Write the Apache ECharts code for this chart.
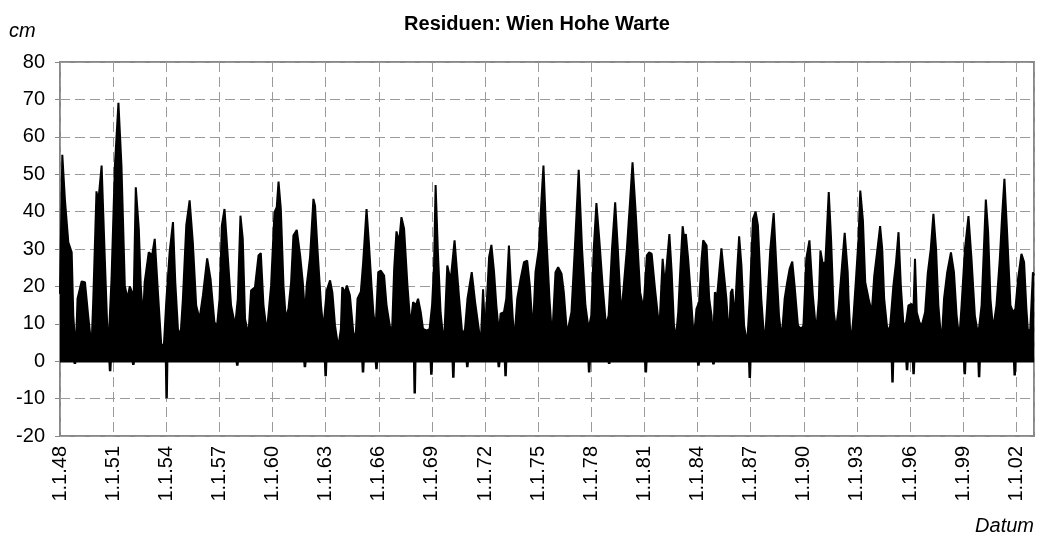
<!DOCTYPE html>
<html>
<head>
<meta charset="utf-8">
<script src="https://cdn.jsdelivr.net/npm/echarts@6/dist/echarts.min.js"></script>
<style>
  html, body { margin: 0; padding: 0; background: #fff; }
  #myChart { width: 1045px; height: 537px; }
</style>
</head>
<body>
<div id="myChart"></div>
<script>
// obere Huelle der Residuen (Jahr, cm)
var upperYears = [
  1948.00, 1948.13, 1948.28, 1948.47, 1948.66, 1948.75, 1948.84, 1948.90, 1948.99, 1949.22,
  1949.41, 1949.59, 1949.78, 1949.88, 1950.06, 1950.16, 1950.35, 1950.53, 1950.72, 1950.91,
  1951.10, 1951.30, 1951.47, 1951.66, 1951.81, 1951.94, 1952.07, 1952.15, 1952.28, 1952.45,
  1952.56, 1952.69, 1952.78, 1953.01, 1953.20, 1953.35, 1953.53, 1953.72, 1953.87, 1954.00,
  1954.19, 1954.38, 1954.51, 1954.66, 1954.81, 1954.94, 1955.13, 1955.32, 1955.50, 1955.69,
  1955.88, 1956.07, 1956.31, 1956.50, 1956.72, 1956.87, 1957.01, 1957.14, 1957.29, 1957.47,
  1957.66, 1957.89, 1958.04, 1958.19, 1958.32, 1958.45, 1958.64, 1958.79, 1959.01, 1959.21,
  1959.34, 1959.49, 1959.68, 1959.77, 1959.92, 1960.11, 1960.24, 1960.34, 1960.47, 1960.62,
  1960.75, 1960.90, 1961.05, 1961.18, 1961.37, 1961.56, 1961.71, 1961.84, 1961.93, 1962.12,
  1962.31, 1962.40, 1962.55, 1962.74, 1962.87, 1963.06, 1963.25, 1963.38, 1963.53, 1963.71,
  1963.86, 1963.94, 1964.09, 1964.20, 1964.37, 1964.56, 1964.69, 1964.80, 1964.99, 1965.12,
  1965.31, 1965.44, 1965.59, 1965.70, 1965.82, 1965.97, 1966.12, 1966.30, 1966.44, 1966.62,
  1966.75, 1966.87, 1967.00, 1967.15, 1967.28, 1967.43, 1967.62, 1967.79, 1967.94, 1968.09,
  1968.22, 1968.37, 1968.50, 1968.69, 1968.87, 1969.01, 1969.12, 1969.21, 1969.34, 1969.49,
  1969.68, 1969.87, 1970.06, 1970.28, 1970.54, 1970.72, 1970.87, 1971.01, 1971.25, 1971.44,
  1971.62, 1971.76, 1971.89, 1972.00, 1972.09, 1972.23, 1972.36, 1972.51, 1972.64, 1972.79,
  1972.88, 1973.07, 1973.20, 1973.35, 1973.50, 1973.65, 1973.82, 1974.01, 1974.20, 1974.38,
  1974.53, 1974.70, 1974.85, 1975.04, 1975.19, 1975.30, 1975.45, 1975.64, 1975.79, 1975.98,
  1976.13, 1976.32, 1976.45, 1976.63, 1976.88, 1977.07, 1977.29, 1977.48, 1977.67, 1977.85,
  1978.00, 1978.14, 1978.29, 1978.45, 1978.64, 1978.83, 1978.98, 1979.17, 1979.35, 1979.50,
  1979.69, 1979.82, 1980.01, 1980.20, 1980.33, 1980.52, 1980.76, 1980.95, 1981.14, 1981.27,
  1981.41, 1981.60, 1981.79, 1981.88, 1982.03, 1982.16, 1982.29, 1982.41, 1982.54, 1982.67,
  1982.78, 1982.91, 1983.04, 1983.16, 1983.25, 1983.34, 1983.47, 1983.66, 1983.79, 1983.94,
  1984.09, 1984.23, 1984.32, 1984.51, 1984.66, 1984.79, 1984.88, 1984.98, 1985.11, 1985.26,
  1985.35, 1985.48, 1985.63, 1985.78, 1985.88, 1985.97, 1986.10, 1986.23, 1986.35, 1986.48,
  1986.63, 1986.80, 1986.95, 1987.13, 1987.28, 1987.41, 1987.60, 1987.79, 1987.92, 1988.11,
  1988.30, 1988.45, 1988.60, 1988.75, 1988.92, 1989.05, 1989.20, 1989.35, 1989.48, 1989.67,
  1989.85, 1989.98, 1990.14, 1990.32, 1990.51, 1990.70, 1990.85, 1990.94, 1991.07, 1991.22,
  1991.41, 1991.54, 1991.69, 1991.82, 1991.97, 1992.16, 1992.31, 1992.48, 1992.53, 1992.66,
  1992.81, 1992.96, 1993.09, 1993.19, 1993.34, 1993.47, 1993.66, 1993.84, 1993.98, 1994.16,
  1994.31, 1994.43, 1994.54, 1994.73, 1994.88, 1995.06, 1995.21, 1995.35, 1995.48, 1995.63,
  1995.78, 1995.91, 1996.10, 1996.19, 1996.28, 1996.38, 1996.53, 1996.66, 1996.85, 1997.00,
  1997.17, 1997.32, 1997.47, 1997.60, 1997.78, 1997.92, 1998.10, 1998.31, 1998.48, 1998.63,
  1998.78, 1998.91, 1999.10, 1999.30, 1999.47, 1999.66, 1999.85, 2000.04, 2000.17, 2000.28,
  2000.41, 2000.54, 2000.69, 2000.88, 2001.07, 2001.20, 2001.33, 2001.48, 2001.67, 2001.82,
  2001.95, 2002.10, 2002.29, 2002.44, 2002.57, 2002.66, 2002.79, 2002.94, 2003.00
];
var upperCm = [
  18, 55.2, 43, 31.8, 29.1, 12.2, 6, 4.2, 16.7, 21.3,
  21.1, 12.2, 3.7, 16.7, 45.4, 42.5, 52.3, 27.4, 2.4, 22,
  52.3, 69.1, 52.3, 20.2, 16.7, 20, 18.4, 14, 46.5, 35.4,
  20.2, 11.3, 21.1, 29.1, 28.3, 32.7, 18.4, 4.2, 4.6, 15.8,
  29.1, 37.2, 21.1, 8.6, 6.9, 16.7, 36.3, 43, 31.8, 14.9,
  11.3, 17.6, 27.5, 22, 10.4, 9.5, 16.7, 36.3, 40.7, 28.3,
  14.9, 9.5, 16.7, 38.9, 32.7, 11.3, 6.9, 18.9, 19.8, 28.3,
  28.9, 14.9, 7.8, 7.4, 20.2, 39.8, 41.2, 48, 40.7, 20.2,
  11.3, 14, 21.1, 33.6, 35.1, 28.3, 21.1, 12.2, 20.2, 27.8,
  43.4, 41.6, 29.1, 14.9, 8.6, 18.9, 21.6, 18.4, 9.5, 3.7,
  8.6, 19.8, 18.4, 20.2, 17.6, 7.8, 6, 16.7, 18.6, 26.5,
  40.7, 31.8, 20.2, 12.7, 8.6, 23.8, 24.2, 22.9, 14.9, 9.5,
  7.8, 24.7, 34.7, 31.8, 38.5, 35.4, 20.2, 9.5, 15.8, 14.9,
  16.7, 13.1, 8.6, 8.2, 8.6, 14.9, 25.6, 47.1, 29.1, 13.1,
  4.2, 25.6, 21.6, 32.3, 16.7, 6.9, 8.6, 16.7, 23.8, 15.8,
  9.5, 4.6, 19.2, 7.8, 14.9, 27.8, 31.1, 23.8, 14.9, 7.3,
  12.7, 13.1, 16.7, 30.9, 16.7, 5.1, 16.7, 22, 26.5, 26.9,
  20.2, 7.8, 23.8, 30, 43.4, 52.3, 34.5, 16.7, 6, 23.8,
  25.1, 23.4, 18.4, 7.3, 13.1, 30, 51.2, 30, 14.9, 8.6,
  12.2, 30, 42.3, 32.7, 20.2, 9.5, 12.2, 30, 42.5, 30,
  12.2, 19.3, 30, 43.4, 53.2, 38.9, 18.4, 14, 28.3, 29.1,
  28.7, 19.3, 10.9, 12.2, 27.4, 20.2, 27.4, 34, 23.8, 9.5,
  6, 13.1, 25.6, 36.1, 32.7, 34, 27.4, 14.9, 6, 14,
  15.8, 27.4, 32.3, 30.9, 16.7, 12.2, 4.2, 18.4, 17.6, 25.6,
  30.2, 23.8, 16.7, 6, 18.4, 19.3, 11.3, 23.8, 33.4, 25.6,
  9.5, 4.6, 16.7, 38, 40, 36.3, 16.7, 4.2, 14, 30,
  39.6, 25.6, 12.2, 6, 16.7, 20.7, 24.7, 26.6, 20.2, 9.5,
  8.6, 9.5, 27.4, 32.3, 17.6, 7.8, 16.7, 29.6, 26, 26.5,
  45.2, 32.7, 13.1, 8.6, 14.4, 25.6, 34.3, 23.8, 16.7, 4.2,
  12.2, 22.9, 32.7, 45.6, 37.6, 21.1, 16.7, 13.1, 22.9, 30,
  36.1, 30, 16.7, 7.8, 9.5, 20.2, 26.5, 34.5, 20.2, 9.5,
  10.4, 14.9, 15.3, 13.1, 27.4, 13.1, 10.4, 9.5, 13.1, 23.4,
  30, 39.4, 30, 14.9, 4.6, 16.7, 23.8, 29.1, 23.8, 12.2,
  6, 14.9, 30, 38.8, 27.4, 12.2, 6.9, 14.9, 30, 43.2,
  34.5, 16.7, 8.6, 14.9, 27.4, 38.9, 48.8, 34.5, 14.9, 13.1,
  14, 22, 28.7, 26.5, 14, 7.8, 8.6, 23.8, 22.9
];

// negative Ausschlaege (Jahr, cm)
var dipYears = [
  1948.84, 1950.83, 1952.14, 1954.02, 1958.01, 1961.83, 1963.00, 1965.11, 1965.87,
  1968.03, 1968.97, 1970.21, 1971.00, 1972.78, 1973.16, 1977.88, 1979.01, 1981.08,
  1984.05, 1984.90, 1986.95, 1995.01, 1995.83, 1996.20, 1999.09, 1999.90, 2001.91
];
var dipCm = [
  -0.7, -2.7, -1, -9.9, -1.2, -1.6, -4, -3, -2.1,
  -8.6, -3.6, -4.4, -1.6, -1.6, -4, -3, -0.7, -3,
  -1.2, -0.8, -4.5, -5.7, -2.4, -3.5, -3.5, -4.3, -3.8
];

// y-Achse
var yMin = -20, yMax = 80, yStep = 10;
// x-Achse: Beschriftung 1.1.48 ... 1.1.02 alle 3 Jahre
var xMin = 1948, xMax = 2003, xStep = 3;

var upperData = upperYears.map(function (t, i) { return [t, upperCm[i]]; });
var lowerData = [[xMin, 0]];
dipYears.forEach(function (t, i) {
  lowerData.push([t - 0.03, 0], [t, dipCm[i]], [t + 0.03, 0]);
});
lowerData.push([xMax, 0]);

var font = '"Liberation Sans", Arial, sans-serif';
var dash = { color: '#9a9a9a', width: 1, type: [10, 5] };

var option = {
  animation: false,
  backgroundColor: '#fff',
  title: {
    text: 'Residuen: Wien Hohe Warte',
    left: 532,
    textAlign: 'center',
    top: 9,
    textStyle: { fontFamily: font, fontSize: 20, fontWeight: 'bold', color: '#000' }
  },
  grid: {
    left: 60, right: 11, top: 62, bottom: 101,
    show: true, borderColor: '#888', borderWidth: 2, backgroundColor: 'transparent'
  },
  xAxis: {
    type: 'value',
    min: xMin, max: xMax, interval: xStep,
    axisLine: { show: false },
    axisTick: { show: true, inside: true, length: 4, lineStyle: { color: '#888' } },
    splitLine: { show: true, lineStyle: dash },
    axisLabel: {
      rotate: 90, margin: 10, showMaxLabel: false,
      fontFamily: font, fontSize: 20, color: '#000',
      formatter: function (v) { return '1.1.' + String(Math.round(v) % 100).padStart(2, '0'); }
    }
  },
  yAxis: {
    type: 'value',
    min: yMin, max: yMax, interval: yStep,
    axisLine: { show: false },
    axisTick: { show: true, length: 5, lineStyle: { color: '#888' } },
    splitLine: { show: true, lineStyle: dash },
    axisLabel: { margin: 15, fontFamily: font, fontSize: 20, color: '#000' }
  },
  graphic: [
    { type: 'text', left: 9, top: 21, style: { text: 'cm', font: 'italic 20px ' + font, fill: '#000' } },
    { type: 'text', right: 11, top: 516, style: { text: 'Datum', font: 'italic 20px ' + font, fill: '#000' } }
  ],
  series: [
    {
      type: 'line', data: upperData, symbol: 'none',
      lineStyle: { color: '#000', width: 2 },
      areaStyle: { color: '#000', opacity: 1, origin: 0 }
    },
    {
      type: 'line', data: lowerData, symbol: 'none',
      lineStyle: { color: '#000', width: 2.5 },
      areaStyle: { color: '#000', opacity: 1, origin: 0 }
    }
  ]
};

var myChart = echarts.init(document.getElementById('myChart'));
myChart.setOption(option);
</script>
</body>
</html>
